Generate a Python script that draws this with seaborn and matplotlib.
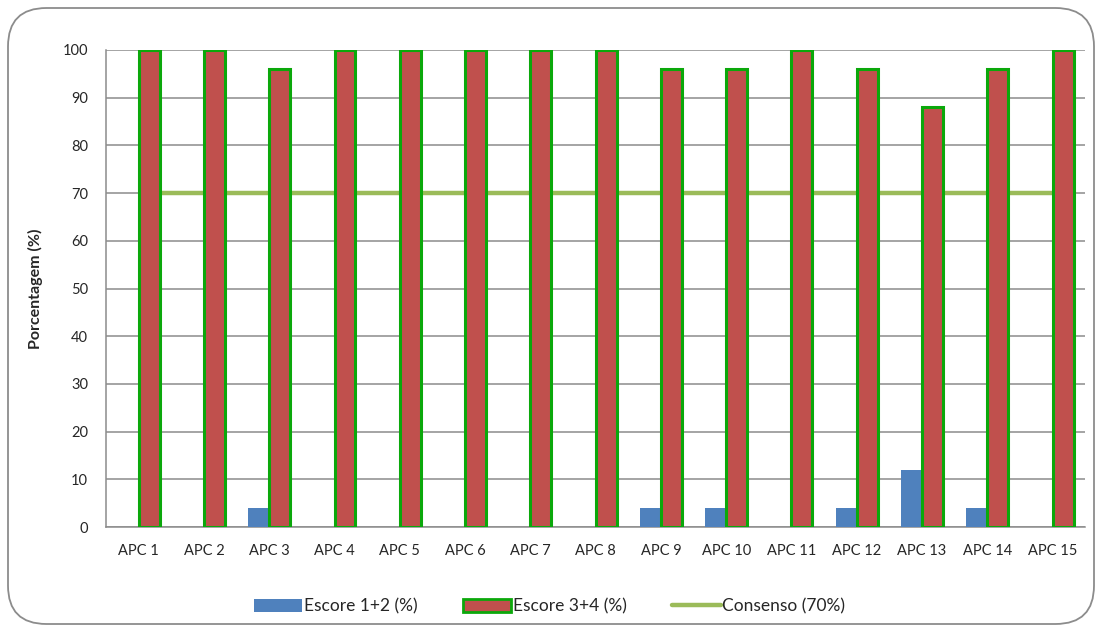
import numpy as np
import pandas as pd
import matplotlib
matplotlib.use("Agg")
import matplotlib.pyplot as plt
import seaborn as sns
from matplotlib.patches import FancyBboxPatch, Patch
from matplotlib.lines import Line2D

# chart data
categorias = ["APC 1", "APC 2", "APC 3", "APC 4", "APC 5", "APC 6", "APC 7", "APC 8",
              "APC 9", "APC 10", "APC 11", "APC 12", "APC 13", "APC 14", "APC 15"]
escore_12 = [0, 0, 4, 0, 0, 0, 0, 0, 4, 4, 0, 4, 12, 4, 0]
escore_34 = [100, 100, 96, 100, 100, 100, 100, 100, 96, 96, 100, 96, 88, 96, 100]
consenso = [70] * 15
series = ["Escore 1+2 (%)", "Escore 3+4 (%)"]
y_ticks = list(range(0, 101, 10))

azul = "#4F81BD"
vermelho = "#C0504D"
verde_borda = "#0BA80B"
verde_linha = "#9BBB59"
cinza = "#8C8C8C"

sns.set_style("white")
plt.rcParams["font.family"] = ["Lato", "DejaVu Sans"]

df = pd.DataFrame({
    "categoria": categorias * 2,
    "valor": escore_12 + escore_34,
    "serie": [series[0]] * len(categorias) + [series[1]] * len(categorias),
})

fig = plt.figure(figsize=(10.99, 6.32), dpi=100)
ax = fig.add_axes([0.0965, 0.166, 0.891, 0.755])

# rounded outer frame
frame = FancyBboxPatch((8 / 1099, 8 / 632), 1086 / 1099, 616 / 632,
                       boxstyle="round,pad=0,rounding_size=0.035",
                       transform=fig.transFigure, facecolor="none",
                       edgecolor=cinza, linewidth=1.3, mutation_aspect=1099 / 632)
fig.patches.append(frame)

# consensus line behind the bars
ax.plot(range(len(categorias)), consenso, color=verde_linha, linewidth=3.2, zorder=2,
        solid_capstyle="butt")

sns.barplot(data=df, x="categoria", y="valor", hue="serie", order=categorias,
            hue_order=series, palette=[azul, vermelho], width=0.64, gap=0,
            saturation=1, legend=False, ax=ax, zorder=3)

for bar in ax.containers[1]:
    bar.set_edgecolor(verde_borda)
    bar.set_linewidth(2.2)
for bar in ax.containers[0]:
    bar.set_linewidth(0)

ax.set_ylim(0, 100)
ax.set_xlim(-0.5, len(categorias) - 0.5)
ax.set_yticks(y_ticks)
ax.yaxis.grid(True, color=cinza, linewidth=1.1, zorder=0)
ax.set_axisbelow(True)

ax.set_xticks(np.arange(-0.5, len(categorias), 1.0), minor=True)
ax.tick_params(axis="x", which="major", length=0, pad=12, labelsize=10.5)
ax.tick_params(axis="x", which="minor", length=5, color=cinza, width=1.1)
ax.tick_params(axis="y", length=5, color=cinza, width=1.1, labelsize=10.5, pad=8)

for side in ["top", "right"]:
    ax.spines[side].set_visible(False)
for side in ["left", "bottom"]:
    ax.spines[side].set_color(cinza)
    ax.spines[side].set_linewidth(1.1)

ax.set_xlabel("")
ax.set_ylabel("Porcentagem (%)", fontsize=11.5, fontweight="bold", labelpad=14)

handles = [
    Patch(facecolor=azul, edgecolor="none", label=series[0]),
    Patch(facecolor=vermelho, edgecolor=verde_borda, linewidth=2, label=series[1]),
    Line2D([0], [0], color=verde_linha, linewidth=3.2, label="Consenso (70%)"),
]
fig.legend(handles=handles, loc="center", bbox_to_anchor=(0.5, 0.04), ncol=3,
           frameon=False, fontsize=12.5, handlelength=2.8, handletextpad=0.1,
           columnspacing=2.6, handleheight=0.8)

fig.savefig("out.png", dpi=100)
